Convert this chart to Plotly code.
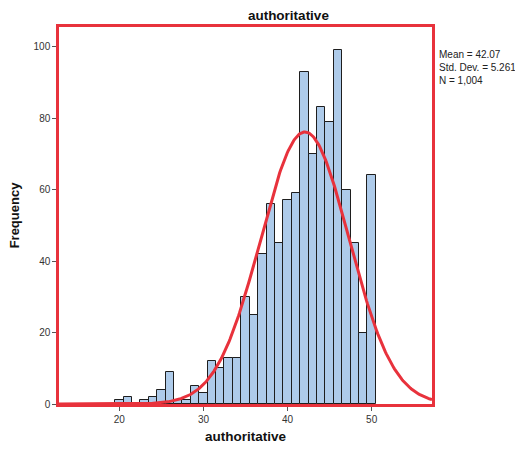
import numpy as np
import plotly.graph_objects as go

# Histogram data (bin centers and counts)
bins = [20, 21, 22, 23, 24, 25, 26, 27, 28, 29, 30, 31, 32, 33, 34, 35,
        36, 37, 38, 39, 40, 41, 42, 43, 44, 45, 46, 47, 48, 49, 50]
counts = [1, 2, 0, 1, 2, 4, 9, 1, 1, 5, 3, 12, 10, 13, 13, 30,
          25, 42, 56, 45, 57, 59, 93, 70, 83, 79, 99, 60, 45, 20, 64]

mean_val = 42.07
sd_val = 5.261
n_val = 1004
bin_width = 1.0

x_range = [12.82, 57.18]
y_range = [0, 105.5]

xs = np.linspace(x_range[0], x_range[1], 400)
ys = n_val * bin_width / (sd_val * np.sqrt(2 * np.pi)) * np.exp(-0.5 * ((xs - mean_val) / sd_val) ** 2)

font_family = "Arial, Liberation Sans, sans-serif"

fig = go.Figure()
fig.add_trace(go.Bar(
    x=bins, y=counts, width=1.0,
    marker=dict(color="#AECBEA", line=dict(color="#1e1e1e", width=1)),
    showlegend=False, hoverinfo="x+y"))
fig.add_trace(go.Scatter(
    x=xs, y=ys, mode="lines",
    line=dict(color="#E8323C", width=3),
    showlegend=False, cliponaxis=True))

fig.update_layout(
    width=515, height=454,
    margin=dict(l=55, r=83, t=27, b=47),
    paper_bgcolor="white", plot_bgcolor="white",
    font=dict(family=font_family, size=10, color="#333"),
    bargap=0,
    title=dict(text="<b>authoritative</b>", x=0.615, xref="paper",
               xanchor="center", y=1 - 15 / 454, yanchor="middle",
               font=dict(size=13.5, color="#111")),
    xaxis=dict(range=x_range, tickvals=[20, 30, 40, 50],
               showgrid=False, zeroline=False,
               showline=True, mirror=True, linecolor="#E8323C", linewidth=2.5,
               ticks="outside", ticklen=4, tickcolor="#555", tickwidth=1,
               tickfont=dict(size=10, color="#333"),
               title=dict(text="<b>authoritative</b>", standoff=8,
                          font=dict(size=13.5, color="#111"))),
    yaxis=dict(range=y_range, tickvals=[0, 20, 40, 60, 80, 100],
               showgrid=False, zeroline=False,
               showline=True, mirror=True, linecolor="#E8323C", linewidth=2.5,
               ticks="outside", ticklen=4, tickcolor="#555", tickwidth=1,
               tickfont=dict(size=10, color="#333"),
               title=dict(text="<b>Frequency</b>", standoff=12,
                          font=dict(size=13, color="#111"))),
    annotations=[dict(
        text="Mean = 42.07<br>Std. Dev. = 5.261<br>N = 1,004",
        xref="paper", yref="paper", x=1.013, y=0.948,
        xanchor="left", yanchor="top", align="left", showarrow=False,
        font=dict(size=10, color="#222"))],
)

fig.write_html("out.html")
